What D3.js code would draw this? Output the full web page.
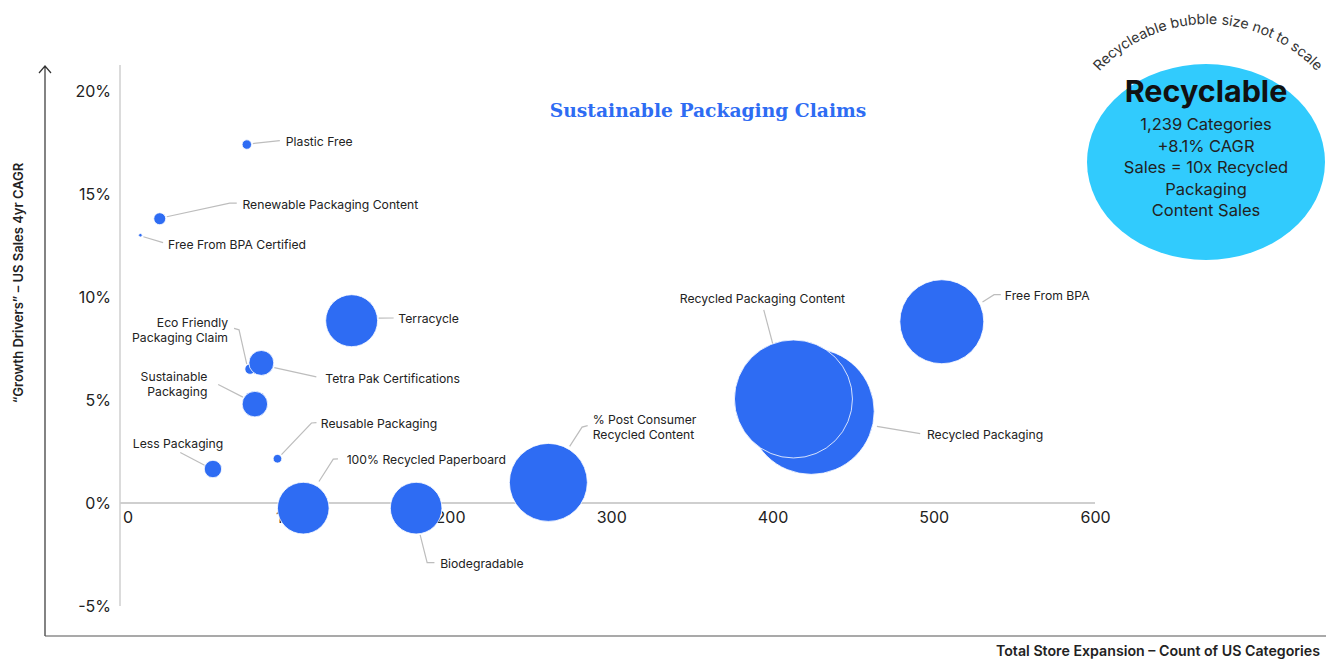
<!DOCTYPE html>
<html>
<head>
<meta charset="utf-8">
<script src="https://cdn.jsdelivr.net/npm/d3@7/dist/d3.min.js"></script>
<style>
  html, body { margin: 0; padding: 0; background: #ffffff; }
  svg { display: block; }
  text { font-family: "Inter", "Noto Sans", sans-serif; }
</style>
</head>
<body>
<svg id="chart" width="1326" height="659"></svg>
<script>
// ---- Data -------------------------------------------------------------
const claims = [
  "Plastic Free", "Renewable Packaging Content", "Free From BPA Certified",
  "Terracycle", "Eco Friendly Packaging Claim", "Tetra Pak Certifications",
  "Sustainable Packaging", "Less Packaging", "Reusable Packaging",
  "100% Recycled Paperboard", "Biodegradable", "% Post Consumer Recycled Content",
  "Recycled Packaging", "Recycled Packaging Content", "Free From BPA"
];
// Count of US categories carrying the claim
const categoryCount = [74, 20, 8, 139, 76, 83, 79, 53, 93, 109, 179, 261, 424, 413, 505];
// US sales 4yr CAGR, %
const salesCagr = [17.4, 13.8, 13.0, 8.85, 6.5, 6.8, 4.8, 1.65, 2.15, -0.25, -0.25, 1.0, 4.45, 5.05, 8.8];
// Relative sales (Recycled Packaging = 100) -> bubble area
const salesIndex = [0.56, 0.9, 0.08, 17, 0.68, 3.9, 4.1, 1.9, 0.47, 16.8, 16.8, 38.3, 100, 87.7, 44.4];

const xTicks = [0, 100, 200, 300, 400, 500, 600];
const yTicks = [-5, 0, 5, 10, 15, 20];

const titleText = "Sustainable Packaging Claims";
const yTitle = "\u201CGrowth Drivers\u201D \u2013 US Sales 4yr CAGR";
const xTitle = "Total Store Expansion \u2013 Count of US Categories";
const recyclableLines = ["1,239 Categories", "+8.1% CAGR", "Sales = 10x Recycled", "Packaging", "Content Sales"];
const recyclableNote = "Recycleable bubble size not to scale";

// ---- Label placement (offsets from each bubble centre, px) -------------
const labelLayout = {
  "Plastic Free": { dx: 39, dy: -4, anchor: "start", lines: ["Plastic Free"], leader: [[6,-1],[33,-4]] },
  "Renewable Packaging Content": { dx: 82.7, dy: -14.3, anchor: "start", lines: ["Renewable Packaging Content"], leader: [[7,-2],[70,-15.6],[77,-15.6]] },
  "Free From BPA Certified": { dx: 27.7, dy: 8.7, anchor: "start", lines: ["Free From BPA Certified"], leader: [[3,1.5],[22.7,7.4]] },
  "Terracycle": { dx: 46.7, dy: -2.7, anchor: "start", lines: ["Terracycle"], leader: [[27,-2.5],[42,-2.7]] },
  "Eco Friendly Packaging Claim": { dx: -22, dy: -47, anchor: "end", lines: ["Eco Friendly", "Packaging Claim"], leader: [[-16,-40.7],[-11,-39.3],[-3.3,-5]] },
  "Tetra Pak Certifications": { dx: 64, dy: 14.7, anchor: "start", lines: ["Tetra Pak Certifications"], leader: [[13,4.7],[55,14]] },
  "Sustainable Packaging": { dx: -47.4, dy: -27.7, anchor: "end", lines: ["Sustainable", "Packaging"], leader: [[-36.7,-19.7],[-12,-7]] },
  "Less Packaging": { dx: 10.3, dy: -26.3, anchor: "end", lines: ["Less Packaging"], leader: [[-32.7,-16.6],[-8.4,-3.8]] },
  "Reusable Packaging": { dx: 43.3, dy: -36, anchor: "start", lines: ["Reusable Packaging"], leader: [[4,-4],[34,-35.7],[39,-36]] },
  "100% Recycled Paperboard": { dx: 43.4, dy: -49.3, anchor: "start", lines: ["100% Recycled Paperboard"], leader: [[15.7,-26.6],[30,-49],[34.7,-49.3]] },
  "Biodegradable": { dx: 24, dy: 54.7, anchor: "start", lines: ["Biodegradable"], leader: [[4,26.7],[11,54.4],[18.3,54.4]] },
  "% Post Consumer Recycled Content": { dx: 44.3, dy: -63, anchor: "start", lines: ["% Post Consumer", "Recycled Content"], leader: [[21.3,-36],[33.7,-55.3],[39.3,-56.7]] },
  "Recycled Packaging": { dx: 115.7, dy: 23, anchor: "start", lines: ["Recycled Packaging"], leader: [[65.7,15],[109,22.3]] },
  "Recycled Packaging Content": { dx: -31, dy: -100.7, anchor: "middle", lines: ["Recycled Packaging Content"], leader: [[-19,-48.7],[-29.7,-89]] },
  "Free From BPA": { dx: 63, dy: -27, anchor: "start", lines: ["Free From BPA"], leader: [[40.7,-19.7],[52.3,-27],[59,-27]] }
};

// ---- Setup -------------------------------------------------------------
const svg = d3.select("#chart");
const bubbleBlue = "#2e6cf3";
const ink = "#222222";

const x = d3.scaleLinear().domain([0, 600]).range([127.5, 1095]);
const y = d3.scaleLinear().domain([-5, 20]).range([606, 91]);
const r = d3.scaleSqrt().domain([0, 100]).range([0, 63]);

const rows = claims.map((name, i) => ({
  name, count: categoryCount[i], cagr: salesCagr[i], sales: salesIndex[i]
}));

// Outer frame axes with arrowhead
svg.append("path")
  .attr("d", "M45,636 V66 M39,73 L45,66 L51,73")
  .attr("fill", "none").attr("stroke", "#333").attr("stroke-width", 1.2);
svg.append("line")
  .attr("x1", 45).attr("x2", 1326).attr("y1", 636).attr("y2", 636)
  .attr("stroke", "#555").attr("stroke-width", 1.2);

// Inner gray plot axes
svg.append("line")
  .attr("x1", 120).attr("x2", 120).attr("y1", 65).attr("y2", y(-5))
  .attr("stroke", "#cfcfcf").attr("stroke-width", 1.5);
svg.append("line")
  .attr("x1", 120).attr("x2", x(600)).attr("y1", y(0)).attr("y2", y(0))
  .attr("stroke", "#cfcfcf").attr("stroke-width", 2);

// Tick labels via d3 axes
const xAxis = svg.append("g")
  .attr("transform", `translate(0,${y(0)})`)
  .call(d3.axisBottom(x).tickValues(xTicks).tickSize(0).tickPadding(9).tickFormat(d3.format("d")));
xAxis.select(".domain").remove();
xAxis.selectAll("text")
  .attr("font-family", "Inter, sans-serif").attr("font-size", 16).attr("fill", ink);

const yAxis = svg.append("g")
  .attr("transform", "translate(111,0)")
  .call(d3.axisLeft(y).tickValues(yTicks).tickSize(0).tickPadding(0).tickFormat(d => d + "%"));
yAxis.select(".domain").remove();
yAxis.selectAll("text")
  .attr("font-family", "Inter, sans-serif").attr("font-size", 16).attr("fill", ink);

// Axis titles
svg.append("text")
  .attr("transform", "translate(23,283) rotate(-90)")
  .attr("text-anchor", "middle")
  .attr("font-size", 13).attr("font-weight", 600).attr("fill", ink)
  .text(yTitle);
svg.append("text")
  .attr("x", 1320).attr("y", 656)
  .attr("text-anchor", "end")
  .attr("font-size", 14.2).attr("font-weight", 600).attr("fill", ink)
  .text(xTitle);

// Chart title
svg.append("text")
  .attr("x", 708).attr("y", 117)
  .attr("text-anchor", "middle")
  .style("font-family", "'DejaVu Serif', serif")
  .attr("font-size", 18.7).attr("font-weight", 700).attr("fill", bubbleBlue)
  .text(titleText);

// Leader lines
const leaders = svg.append("g").attr("fill", "none").attr("stroke", "#bdbdbd").attr("stroke-width", 1.2);
rows.forEach(d => {
  const L = labelLayout[d.name];
  const cx = x(d.count), cy = y(d.cagr);
  leaders.append("path")
    .attr("d", d3.line()(L.leader.map(p => [cx + p[0], cy + p[1]])));
});

// Bubbles
svg.append("g").selectAll("circle")
  .data(rows)
  .join("circle")
  .attr("cx", d => x(d.count))
  .attr("cy", d => y(d.cagr))
  .attr("r", d => r(d.sales))
  .attr("fill", bubbleBlue)
  .attr("stroke", "#ffffff").attr("stroke-opacity", 0.8).attr("stroke-width", 1);

// Labels
const labels = svg.append("g").attr("font-size", 12.2).attr("fill", ink);
rows.forEach(d => {
  const L = labelLayout[d.name];
  const t = labels.append("text")
    .attr("x", x(d.count) + L.dx)
    .attr("y", y(d.cagr) + L.dy)
    .attr("text-anchor", L.anchor)
    .attr("dominant-baseline", "central");
  L.lines.forEach((ln, i) => {
    t.append("tspan")
      .attr("x", x(d.count) + L.dx)
      .attr("dy", i === 0 ? 0 : 15)
      .text(ln);
  });
});

// Recyclable callout bubble
const rc = { cx: 1206, cy: 162, rx: 119, ry: 98 };
svg.append("ellipse")
  .attr("cx", rc.cx).attr("cy", rc.cy).attr("rx", rc.rx).attr("ry", rc.ry)
  .attr("fill", "#31cbfd");
svg.append("text")
  .attr("x", rc.cx).attr("y", 90)
  .attr("text-anchor", "middle").attr("dominant-baseline", "central")
  .attr("font-size", 30.5).attr("font-weight", 700).attr("fill", "#111")
  .text("Recyclable");
const sub = svg.append("text")
  .attr("text-anchor", "middle").attr("dominant-baseline", "central")
  .attr("font-size", 16.5).attr("fill", ink);
recyclableLines.forEach((ln, i) => {
  sub.append("tspan").attr("x", rc.cx).attr("y", 124 + i * 21.5).text(ln);
});

// Curved note above the callout
const arcR = 148, arcCx = 1208, arcCy = 172;
svg.append("path")
  .attr("id", "noteArc")
  .attr("fill", "none")
  .attr("d", `M${arcCx - arcR},${arcCy} A${arcR},${arcR} 0 0,1 ${arcCx + arcR},${arcCy}`);
svg.append("text")
  .attr("font-size", 14.2).attr("fill", "#333")
  .append("textPath")
  .attr("href", "#noteArc")
  .attr("startOffset", "50%")
  .attr("text-anchor", "middle")
  .text(recyclableNote);
</script>
</body>
</html>
